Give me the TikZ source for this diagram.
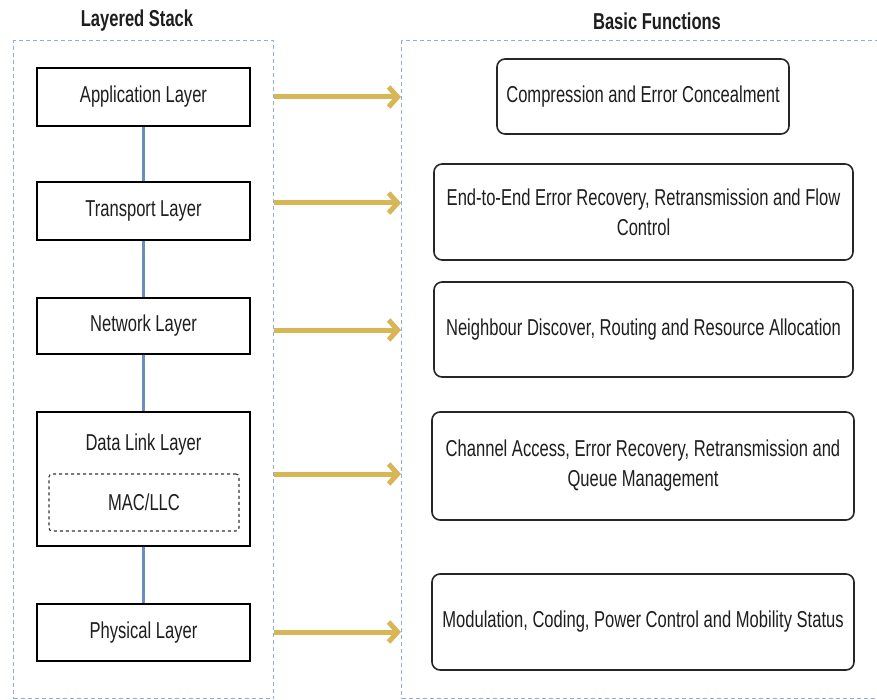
\documentclass[tikz,border=0pt]{standalone}
\usepackage{fontspec}
\setmainfont[FakeStretch=0.72]{Liberation Sans}
\usetikzlibrary{arrows.meta}
\definecolor{groupblue}{HTML}{8EAEDD}
\definecolor{linkblue}{HTML}{6C8EBF}
\definecolor{arrowgold}{HTML}{D6B656}
\definecolor{inktext}{HTML}{1E1E1E}
\begin{document}
\begin{tikzpicture}[x=1pt,y=-1pt,
  font=\fontsize{23}{30}\selectfont, text=inktext,
  layer/.style={draw=black, line width=1.6pt, fill=white, minimum width=213pt, inner sep=0pt},
  func/.style={draw=black!85, line width=1.6pt, rounded corners=8pt, fill=white, align=center, inner sep=0pt},
  group/.style={draw=groupblue, dash pattern=on 4pt off 3pt, line width=1.2pt, inner sep=0pt},
  link/.style={draw=linkblue, line width=2.4pt},
  flow/.style={draw=arrowgold, line width=5pt, -{Straight Barb[length=9pt,width=20pt]}},
  title/.style={font=\fontsize{23}{26}\selectfont\bfseries}
]
\useasboundingbox (0,0) rectangle (877,700);

% group frames
\node[group, minimum width=260pt, minimum height=658pt, anchor=north west] (L) at (13,40) {};
\node[group, minimum width=480pt, minimum height=658pt, anchor=north west] (R) at (401,40) {};

% column titles
\node[title] (tl) at (137,21) {Layered Stack};
\node[title] (tr) at (657,21) {Basic Functions};

% protocol stack
\node[layer, minimum height=58pt] (app) at (143.5,97) {Application Layer};
\node[layer, minimum height=58pt] (tra) at (143.5,211) {Transport Layer};
\node[layer, minimum height=56pt] (net) at (143.5,326) {Network Layer};
\node[layer, minimum height=134pt] (dll) at (143.5,479) {};
\node (dllt) at (143.5,445) {Data Link Layer};
\node[draw=black!80, dashed, rounded corners=3pt, line width=1.1pt,
      minimum width=190pt, minimum height=57pt, inner sep=0pt] (mac) at (144,502.5) {MAC/LLC};
\node[layer, minimum height=57pt] (phy) at (143.5,632.5) {Physical Layer};

\draw[link] (app.south) -- (tra.north);
\draw[link] (tra.south) -- (net.north);
\draw[link] (net.south) -- (dll.north);
\draw[link] (dll.south) -- (phy.north);

% functions per layer
\node[func, minimum width=292pt, minimum height=75pt] (f1) at (643,96.5) {Compression and Error Concealment};
\node[func, minimum width=419pt, minimum height=96pt] (f2) at (643.5,212) {End-to-End Error Recovery, Retransmission and Flow\\Control};
\node[func, minimum width=419pt, minimum height=95pt] (f3) at (643.5,329.5) {Neighbour Discover, Routing and Resource Allocation};
\node[func, minimum width=422pt, minimum height=108pt] (f4) at (643,466) {Channel Access, Error Recovery, Retransmission and\\Queue Management};
\node[func, minimum width=422pt, minimum height=96pt] (f5) at (643,622) {Modulation, Coding, Power Control and Mobility Status};

% layer-to-function arrows
\foreach \n/\y in {1/97, 2/203, 3/330, 4/474, 5/632}
  \coordinate (a\n) at (0,\y);
\foreach \n in {1,...,5}
  \draw[flow] (a\n -| L.east) -- (a\n -| R.west);
\end{tikzpicture}
\end{document}
